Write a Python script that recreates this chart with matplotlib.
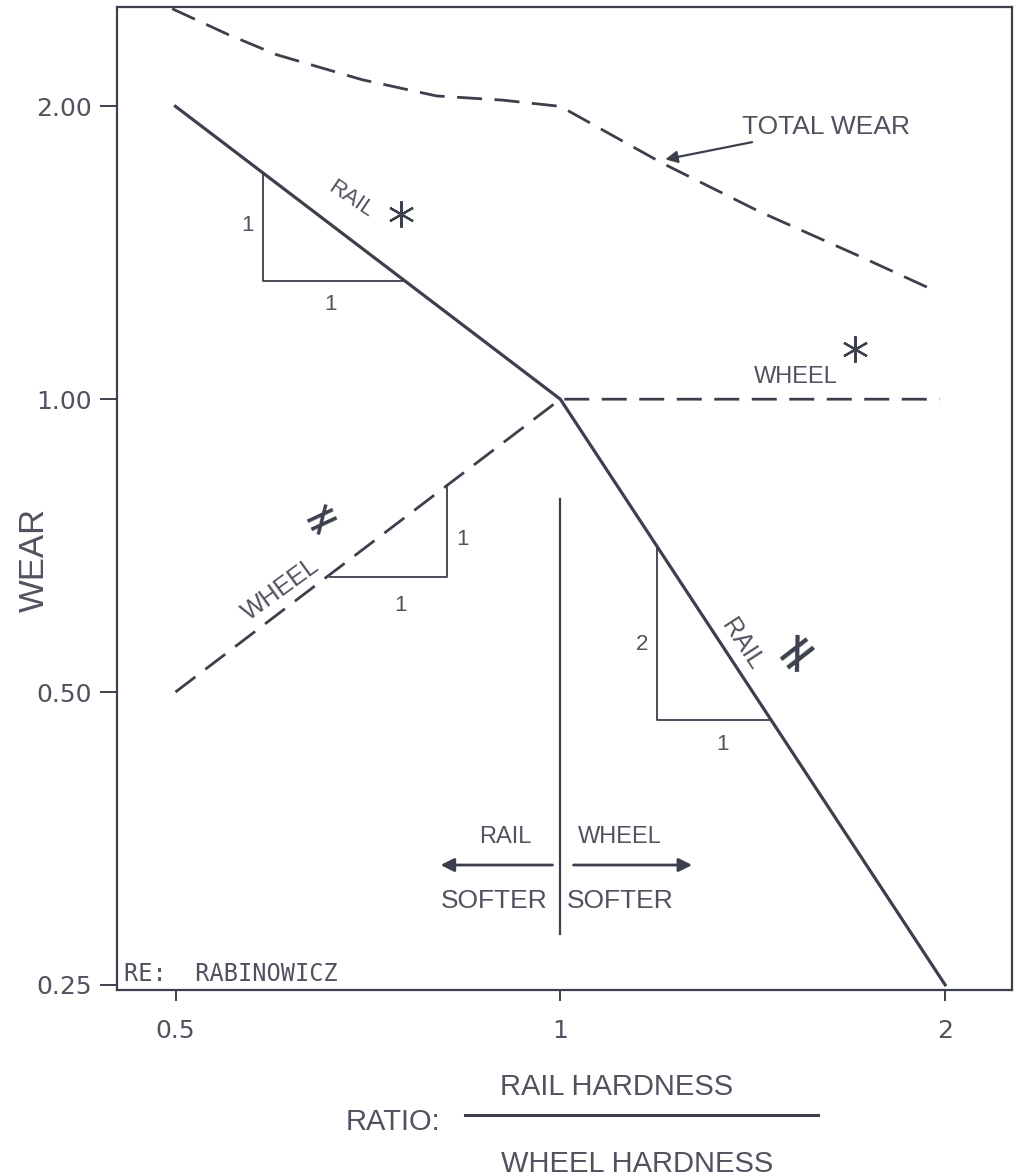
import numpy as np
import matplotlib
matplotlib.use('Agg')
import matplotlib.pyplot as plt

# === data (log-log wear vs hardness ratio) ===
rail_x = [0.5, 1.0, 2.0]
rail_y = [2.0, 1.0, 0.25]

wheel_x = [0.5, 1.0, 1.98]
wheel_y = [0.5, 1.0, 1.0]

total_x = [0.497, 0.55, 0.6, 0.7, 0.8, 0.9, 1.0, 1.2, 1.43, 1.72, 1.97]
total_y = [2.52, 2.37, 2.26, 2.13, 2.05, 2.03, 2.0, 1.75, 1.56, 1.40, 1.29]

# slope triangles
tri1_x = [0.585, 0.585, 0.756]
tri1_y = [1.71, 1.322, 1.322]
tri2_x = [0.661, 0.816, 0.816]
tri2_y = [0.656, 0.656, 0.816]
tri3_x = [1.19, 1.19, 1.46]
tri3_y = [0.705, 0.468, 0.468]

xticks = [0.5, 1, 2]
xticklabels = ['0.5', '1', '2']
yticks = [0.25, 0.5, 1.0, 2.0]
yticklabels = ['0.25', '0.50', '1.00', '2.00']

INK = '#3c404d'
TXT = '#50535f'
SANS = ['Liberation Sans', 'DejaVu Sans']

fig = plt.figure(figsize=(10.21, 11.76), dpi=100)
ax = fig.add_axes([0.1146, 0.1582, 0.8766, 0.8358])
ax.set_xscale('log', base=2)
ax.set_yscale('log', base=2)
ax.set_xlim(0.45, 2.256)
ax.set_ylim(0.247, 2.53)

dash = (0, (9, 4.5))
ax.plot(rail_x, rail_y, color=INK, lw=2.3, solid_joinstyle='miter')
ax.plot(wheel_x, wheel_y, color=INK, lw=2.0, linestyle=dash)
ax.plot(total_x, total_y, color=INK, lw=2.0, linestyle=dash)

for tx, ty in [(tri1_x, tri1_y), (tri2_x, tri2_y), (tri3_x, tri3_y)]:
    ax.plot(tx, ty, color=INK, lw=1.3)

# divider at ratio = 1
ax.plot([1, 1], [0.79, 0.282], color=INK, lw=1.6)

# frame and ticks
for s in ax.spines.values():
    s.set_color(INK)
    s.set_linewidth(1.6)
ax.set_xticks(xticks)
ax.set_xticklabels(xticklabels)
ax.set_yticks(yticks)
ax.set_yticklabels(yticklabels)
ax.minorticks_off()
ax.tick_params(axis='both', direction='out', width=1.4, color=INK,
               labelsize=18, labelcolor=TXT)
ax.tick_params(axis='x', length=8, pad=13)
ax.tick_params(axis='y', length=12, pad=6)
for lab in ax.get_xticklabels() + ax.get_yticklabels():
    lab.set_family(['DejaVu Sans'])

# labels on the curves
fs = 16
ax.text(0.685, 1.605, 'RAIL', rotation=-34, ha='center', va='center',
        fontsize=fs, color=TXT, family=SANS)
ax.plot([0.75], [1.549], marker=(6, 2, 0), ms=19, mew=1.6, color=INK)
ax.text(0.569, 1.509, '1', ha='center', va='center', fontsize=fs, color=TXT, family=SANS)
ax.text(0.661, 1.252, '1', ha='center', va='center', fontsize=fs, color=TXT, family=SANS)

ax.text(1.527, 1.053, 'WHEEL', ha='center', va='center', fontsize=17,
        color=TXT, family=SANS)
ax.plot([1.70], [1.126], marker=(6, 2, 0), ms=19, mew=1.6, color=INK)

ax.text(0.604, 0.638, 'WHEEL', rotation=36, ha='center', va='center',
        fontsize=18, color=TXT, family=SANS)
ax.text(0.651, 0.753, '≠', rotation=25, ha='center', va='center',
        fontsize=32, color=INK, family=['DejaVu Sans'])
ax.text(0.838, 0.718, '1', ha='center', va='center', fontsize=fs, color=TXT, family=SANS)
ax.text(0.75, 0.613, '1', ha='center', va='center', fontsize=fs, color=TXT, family=SANS)

ax.text(1.388, 0.56, 'RAIL', rotation=-57, ha='center', va='center',
        fontsize=18, color=TXT, family=SANS)
ax.text(1.532, 0.551, '≠', rotation=38, ha='center', va='center',
        fontsize=38, color=INK, family=['DejaVu Sans'])
ax.text(1.159, 0.56, '2', ha='center', va='center', fontsize=fs, color=TXT, family=SANS)
ax.text(1.339, 0.442, '1', ha='center', va='center', fontsize=fs, color=TXT, family=SANS)

ax.annotate('TOTAL WEAR', xy=(1.208, 1.764), xytext=(1.388, 1.903),
            ha='left', va='center', fontsize=19, color=TXT, family=SANS,
            arrowprops=dict(arrowstyle='-|>', color=INK, lw=1.6,
                            mutation_scale=18, shrinkA=0, shrinkB=0))

# softer indicators
ax.text(0.906, 0.355, 'RAIL', ha='center', va='center', fontsize=17, color=TXT, family=SANS)
ax.text(1.114, 0.355, 'WHEEL', ha='center', va='center', fontsize=17, color=TXT, family=SANS)
ax.annotate('', xy=(0.806, 0.332), xytext=(0.986, 0.332),
            arrowprops=dict(arrowstyle='-|>', color=INK, lw=2, mutation_scale=20,
                            shrinkA=0, shrinkB=0))
ax.annotate('', xy=(1.268, 0.332), xytext=(1.024, 0.332),
            arrowprops=dict(arrowstyle='-|>', color=INK, lw=2, mutation_scale=20,
                            shrinkA=0, shrinkB=0))
ax.text(0.887, 0.305, 'SOFTER', ha='center', va='center', fontsize=19, color=TXT, family=SANS)
ax.text(1.114, 0.305, 'SOFTER', ha='center', va='center', fontsize=19, color=TXT, family=SANS)

ax.text(0.008, 0.004, 'RE:  RABINOWICZ', transform=ax.transAxes, ha='left',
        va='bottom', fontsize=17, color=TXT, family=['DejaVu Sans Mono'])

# axis titles
fig.text(0.034, 0.524, 'WEAR', rotation=90, ha='center', va='center',
         fontsize=25, color=TXT, family=SANS)
fig.text(0.385, 0.046, 'RATIO:', ha='center', va='center', fontsize=21,
         color=TXT, family=SANS)
fig.text(0.604, 0.076, 'RAIL HARDNESS', ha='center', va='center', fontsize=21,
         color=TXT, family=SANS)
fig.add_artist(plt.Line2D([0.455, 0.801], [0.052, 0.052], color=INK, lw=2.2,
                          transform=fig.transFigure))
fig.text(0.624, 0.010, 'WHEEL HARDNESS', ha='center', va='center', fontsize=21,
         color=TXT, family=SANS)

fig.savefig('out.png', dpi=100, facecolor='white')
